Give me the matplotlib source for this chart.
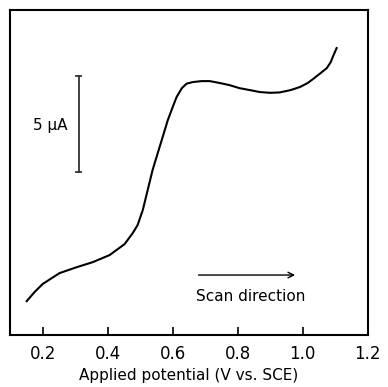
import matplotlib
matplotlib.use('Agg')
import matplotlib.pyplot as plt

# applied potential (V vs. SCE) and current (uA, arbitrary zero)
potential = [0.151, 0.175, 0.2, 0.228, 0.252, 0.305, 0.354, 0.406, 0.452, 0.477,
             0.492, 0.508, 0.523, 0.538, 0.554, 0.569, 0.585, 0.6, 0.612, 0.628,
             0.643, 0.662, 0.689, 0.714, 0.745, 0.775, 0.806, 0.838, 0.868, 0.9,
             0.929, 0.962, 0.991, 1.015, 1.031, 1.055, 1.074, 1.086, 1.092, 1.104]
current = [1.77, 2.24, 2.66, 2.97, 3.23, 3.54, 3.80, 4.17, 4.74, 5.31,
           5.73, 6.51, 7.55, 8.59, 9.48, 10.31, 11.20, 11.88, 12.40, 12.86,
           13.10, 13.18, 13.23, 13.23, 13.13, 13.02, 12.86, 12.76, 12.66, 12.62,
           12.64, 12.76, 12.92, 13.13, 13.33, 13.65, 13.91, 14.22, 14.48, 14.95]

xticks = [0.2, 0.4, 0.6, 0.8, 1.0, 1.2]
xticklabels = ['0.2', '0.4', '0.6', '0.8', '1.0', '1.2']

# 5 uA scale bar
bar_x = 0.311
bar_y = [8.49, 13.49]


def main():
    plt.rcParams['font.family'] = ['DejaVu Sans']
    fig = plt.figure(figsize=(3.88, 3.87), dpi=100)
    ax = fig.add_axes([0.026, 0.134, 0.922, 0.840])

    ax.plot(potential, current, color='black', lw=1.5)

    ax.plot([bar_x, bar_x], bar_y, color='#333333', lw=1.3)
    for yb in bar_y:
        ax.plot([bar_x - 0.008, bar_x + 0.008], [yb, yb], color='#333333', lw=1.3)
    ax.text(0.222, 10.9, '5 μA', fontsize=11, ha='center', va='center')

    ax.annotate('', xy=(0.985, 3.13), xytext=(0.671, 3.13),
                arrowprops=dict(arrowstyle='->', color='black', lw=1.0))
    ax.text(0.84, 2.03, 'Scan direction', fontsize=11, ha='center', va='center')

    ax.set_xlim(0.1, 1.2)
    ax.set_ylim(0, 16.93)
    ax.set_xticks(xticks)
    ax.set_xticklabels(xticklabels, fontsize=12)
    ax.set_yticks([])
    ax.tick_params(axis='x', direction='in', length=6, width=1.2, pad=7)
    for s in ax.spines.values():
        s.set_linewidth(1.5)
    ax.set_xlabel('Applied potential (V vs. SCE)', fontsize=11, labelpad=4)

    fig.savefig('out.png', dpi=100)


if __name__ == '__main__':
    main()
